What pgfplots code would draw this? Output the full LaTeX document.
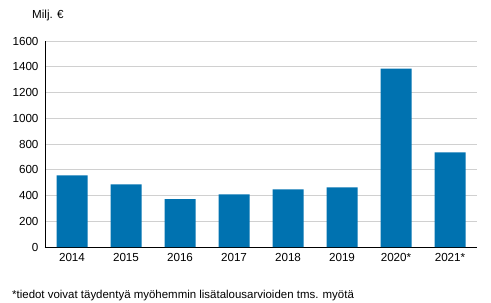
\documentclass[border=0pt]{standalone}
\usepackage{pgfplots}
\pgfplotsset{compat=1.18}
\usepackage{fontspec}
\setmainfont{Liberation Sans}
\definecolor{barblue}{HTML}{0072B0}
\definecolor{gridgray}{HTML}{D0D0D0}
\begin{document}
\begin{tikzpicture}[x=1bp,y=1bp]
\path[use as bounding box] (-45,-55) rectangle (446,247);
\begin{axis}[
  at={(0,0)}, anchor=south west,
  scale only axis, width=432bp, height=206bp,
  xmin=-0.5, xmax=7.5, ymin=0, ymax=1600,
  ytick={0,200,...,1600},
  xtick={0,...,7},
  xticklabels={2014,2015,2016,2017,2018,2019,2020*,2021*},
  axis x line*=bottom, axis y line*=left,
  axis line style={black, line width=0.8pt},
  every outer x axis line/.append style={-}, every outer y axis line/.append style={-},
  major tick length=0pt,
  ymajorgrids, grid style={gridgray, line width=0.6pt},
  tick label style={font=\fontsize{11.7}{14}\selectfont},
  /pgf/number format/assume math mode=true,
  /pgf/number format/1000 sep={},
  yticklabel style={xshift=-3bp},
  xticklabel style={yshift=-3bp},
  ybar, bar width=31bp,
  axis on top=false,
  clip=false,
]
\addplot[fill=barblue, draw=none] coordinates {
(0,556) (1,486) (2,371) (3,409) (4,448) (5,463) (6,1385) (7,734)
};
\end{axis}
\node[anchor=base west, font=\fontsize{11.7}{14}\selectfont, inner sep=0] at (-13,229) {Milj. €};
\node[anchor=base west, font=\fontsize{11.5}{14}\selectfont, inner sep=0] at (-33,-51) {*tiedot voivat täydentyä myöhemmin lisätalousarvioiden tms. myötä};
\end{tikzpicture}
\end{document}
